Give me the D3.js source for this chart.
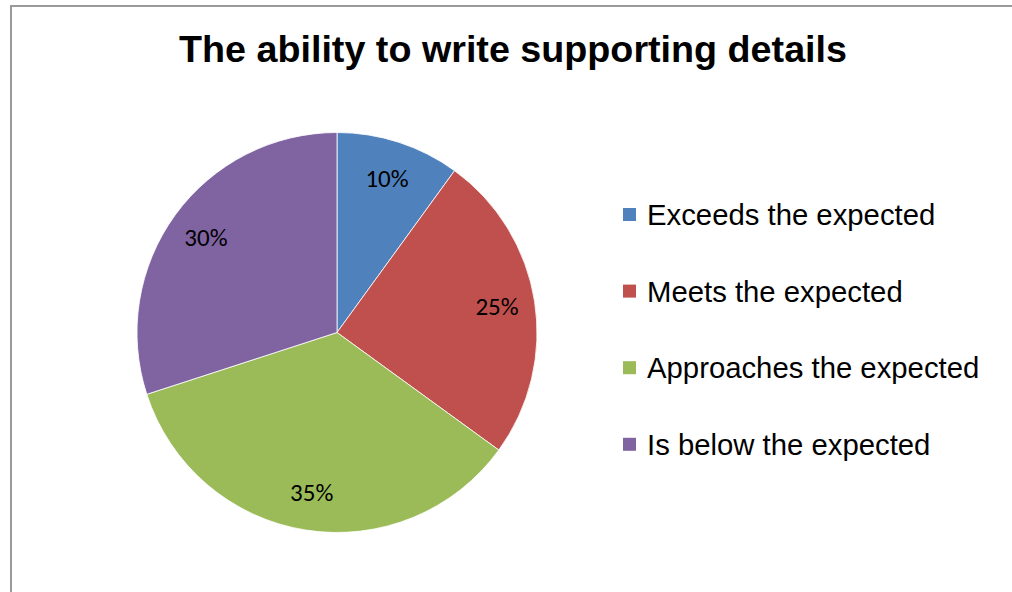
<!DOCTYPE html>
<html><head><meta charset="utf-8">
<script src="https://cdn.jsdelivr.net/npm/d3@7"></script>
<style>html,body{margin:0;padding:0;background:#fff;}svg{display:block;}</style>
</head><body>
<script>
const title = "The ability to write supporting details";
const categories = ["Exceeds the expected", "Meets the expected", "Approaches the expected", "Is below the expected"];
const values = [10, 25, 35, 30];
const colors = ["#4F81BD", "#C0504D", "#9BBB59", "#8064A2"];

const W = 1012, H = 592;
const svg = d3.select("body").append("svg").attr("width", W).attr("height", H);

// chart frame
svg.append("rect").attr("x", 11).attr("y", 6).attr("width", W + 20).attr("height", H + 20)
  .attr("fill", "#fff").attr("stroke", "#9a9a9a").attr("stroke-width", 2);

svg.append("text").attr("x", 513).attr("y", 62).attr("text-anchor", "middle")
  .attr("font-family", "Liberation Sans, Arial, sans-serif").attr("font-weight", "bold")
  .attr("font-size", 37).attr("fill", "#000").attr("textLength", 668).attr("lengthAdjust", "spacingAndGlyphs")
  .text(title);

const cx = 337, cy = 332.5, r = 200;
const pie = d3.pie().sort(null).value(d => d);
const arcs = pie(values);
const arc = d3.arc().innerRadius(0).outerRadius(r);
const labelArc = d3.arc().innerRadius(162).outerRadius(162);
const color = d3.scaleOrdinal().domain(categories).range(colors);

const g = svg.append("g").attr("transform", `translate(${cx},${cy})`);
g.selectAll("path").data(arcs).join("path")
  .attr("d", arc).attr("fill", (d, i) => color(categories[i]))
  .attr("stroke", "#fff").attr("stroke-width", 0.8);

const total = d3.sum(values);
g.selectAll("text.lbl").data(arcs).join("text").attr("class", "lbl")
  .attr("transform", d => `translate(${labelArc.centroid(d)})`)
  .attr("text-anchor", "middle").attr("dy", "0.33em")
  .attr("font-family", "Carlito, 'Open Sans', sans-serif").attr("font-size", 25).attr("fill", "#000")
  .text(d => Math.round(d.data / total * 100) + "%");

const leg = svg.append("g");
const rows = leg.selectAll("g").data(categories).join("g")
  .attr("transform", (d, i) => `translate(623, ${225 + i * 76.6})`);
rows.append("rect").attr("x", 0).attr("y", -17).attr("width", 13).attr("height", 13)
  .attr("fill", d => color(d));
rows.append("text").attr("x", 24).attr("y", 0)
  .attr("font-family", "Liberation Sans, Arial, sans-serif").attr("font-size", 29.3).attr("fill", "#000")
  .text(d => d);
</script>
</body></html>
